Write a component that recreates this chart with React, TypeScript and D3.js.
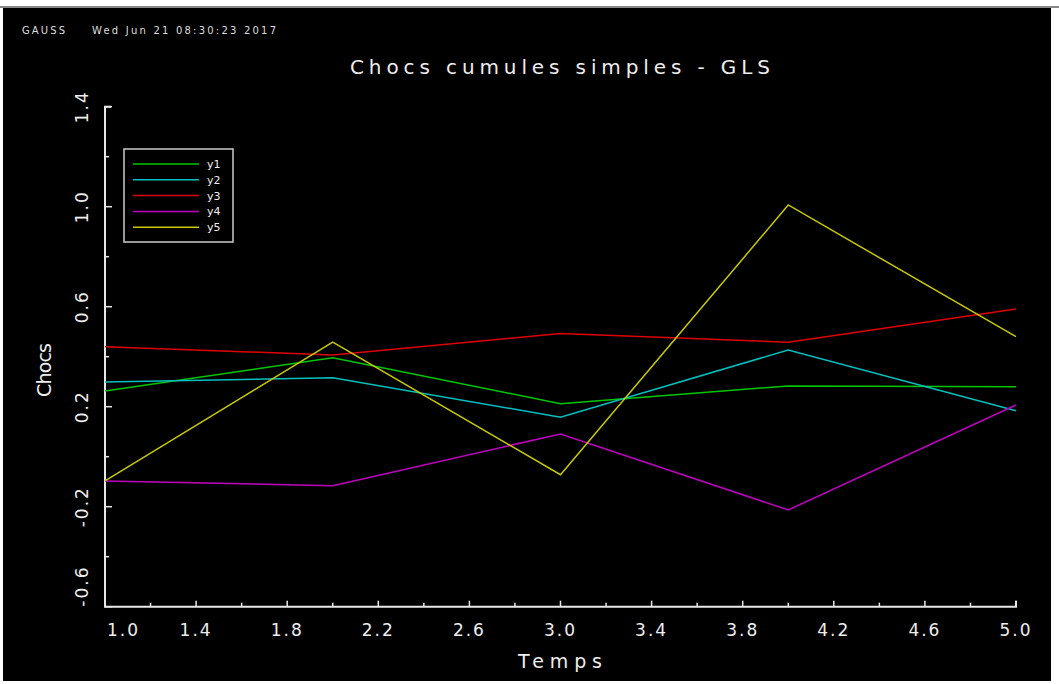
import React from "react";
import * as d3 from "d3";

// data
const temps = [1, 2, 3, 4, 5];
const y1 = [0.263, 0.396, 0.212, 0.283, 0.28];
const y2 = [0.299, 0.316, 0.158, 0.427, 0.184];
const y3 = [0.44, 0.407, 0.493, 0.458, 0.591];
const y4 = [-0.097, -0.116, 0.091, -0.213, 0.207];
const y5 = [-0.097, 0.458, -0.072, 1.007, 0.48];
const seriesNames = ["y1", "y2", "y3", "y4", "y5"];
const seriesColors = ["#00c800", "#00c0c0", "#e00000", "#c000c0", "#c8c800"];
const xTicks = [1.0, 1.4, 1.8, 2.2, 2.6, 3.0, 3.4, 3.8, 4.2, 4.6, 5.0];
const yTicks = [-0.6, -0.2, 0.2, 0.6, 1.0, 1.4];

const W = 1059;
const H = 684;
const FONT = "'DejaVu Sans', sans-serif";
const AXIS = "#e8e8e8";

export default function App() {
  const x = d3.scaleLinear().domain([1, 5]).range([105, 1016]);
  const y = d3.scaleLinear().domain([-0.6, 1.4]).range([606.7, 106.7]);

  const series = [y1, y2, y3, y4, y5];
  const line = d3
    .line<number>()
    .x((_, i) => x(temps[i]))
    .y((d) => y(d));

  const xMinor = d3.range(1.2, 5.0, 0.4);
  const yMinor = d3.range(-0.4, 1.4, 0.4);

  return (
    <svg
      width={W}
      height={H}
      style={{ position: "absolute", left: 0, top: 0, background: "#fff" }}
    >
      <rect x={0} y={6} width={W} height={2} fill="#888" />
      <rect x={3} y={8} width={1048} height={673} fill="#000" />

      <text x={22} y={34} fill="#ddd" fontSize={10} fontFamily={FONT} textLength={43} lengthAdjust="spacing">
        GAUSS
      </text>
      <text x={92} y={34} fill="#ddd" fontSize={10} fontFamily={FONT} textLength={184} lengthAdjust="spacing">
        Wed Jun 21 08:30:23 2017
      </text>

      <text
        x={560}
        y={74}
        fill="#eee"
        fontSize={20}
        fontFamily={FONT}
        textAnchor="middle"
        textLength={420}
        lengthAdjust="spacing"
      >
        Chocs cumules simples - GLS
      </text>

      {/* axes */}
      <path
        d={`M${x(1) + 6},${y(1.4)} H${x(1)} V${y(-0.6)} H${x(5)} V${y(-0.6) - 6}`}
        fill="none"
        stroke={AXIS}
        strokeWidth={2}
      />
      {xTicks.map((t) => (
        <line key={"xt" + t} x1={x(t)} x2={x(t)} y1={y(-0.6)} y2={y(-0.6) - 6} stroke={AXIS} strokeWidth={1.5} />
      ))}
      {xMinor.map((t) => (
        <line key={"xm" + t} x1={x(t)} x2={x(t)} y1={y(-0.6)} y2={y(-0.6) - 4} stroke={AXIS} strokeWidth={1.5} />
      ))}
      {yTicks.map((t) => (
        <line key={"yt" + t} x1={x(1)} x2={x(1) + 7} y1={y(t)} y2={y(t)} stroke={AXIS} strokeWidth={1.5} />
      ))}
      {yMinor.map((t) => (
        <line key={"ym" + t} x1={x(1)} x2={x(1) + 4} y1={y(t)} y2={y(t)} stroke={AXIS} strokeWidth={1.5} />
      ))}

      {xTicks.map((t, i) => (
        <text
          key={"xl" + t}
          x={i === 0 ? x(t) + 2 : x(t)}
          y={636}
          fill="#eee"
          fontSize={17}
          fontFamily={FONT}
          letterSpacing={2}
          textAnchor={i === 0 ? "start" : "middle"}
        >
          {t.toFixed(1)}
        </text>
      ))}
      {yTicks.map((t, i) => (
        <text
          key={"yl" + t}
          transform={`translate(88,${y(t)}) rotate(-90)`}
          fill="#eee"
          fontSize={17}
          fontFamily={FONT}
          letterSpacing={2}
          textAnchor={i === 0 ? "start" : "middle"}
        >
          {(t < 0 ? "-" : "") + Math.abs(t).toFixed(1)}
        </text>
      ))}

      <text
        x={560}
        y={668}
        fill="#eee"
        fontSize={19}
        fontFamily={FONT}
        textAnchor="middle"
        textLength={84}
        lengthAdjust="spacing"
      >
        Temps
      </text>
      <text
        transform={`translate(51,370) rotate(-90)`}
        fill="#eee"
        fontSize={19}
        fontFamily={FONT}
        textAnchor="middle"
        textLength={54}
        lengthAdjust="spacing"
      >
        Chocs
      </text>

      {/* series */}
      {series.map((s, i) => (
        <path key={seriesNames[i]} d={line(s) || ""} fill="none" stroke={seriesColors[i]} strokeWidth={1.5} />
      ))}

      {/* legend */}
      <rect x={124} y={149} width={109} height={93} fill="#000" stroke="#ccc" strokeWidth={1.5} />
      {seriesNames.map((n, i) => (
        <g key={"lg" + n}>
          <line x1={133} x2={199} y1={164 + i * 15.8} y2={164 + i * 15.8} stroke={seriesColors[i]} strokeWidth={1.5} />
          <text x={207} y={168 + i * 15.8} fill="#eee" fontSize={11} fontFamily={FONT}>
            {n}
          </text>
        </g>
      ))}
    </svg>
  );
}
